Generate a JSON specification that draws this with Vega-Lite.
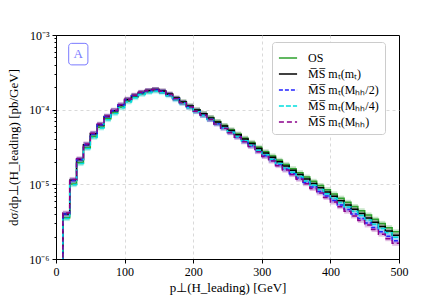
{
  "$schema": "https://vega.github.io/schema/vega-lite/v6.json",
  "width": 343,
  "height": 224,
  "autosize": {"type": "none"},
  "padding": {"left": 56, "top": 35, "right": 45, "bottom": 46},
  "config": {
    "font": "Liberation Serif",
    "view": {"stroke": "black", "strokeWidth": 1},
    "axis": {
      "labelFont": "Liberation Serif", "labelFontSize": 12, "labelColor": "black",
      "titleFont": "Liberation Serif", "titleFontSize": 13, "titleFontWeight": "normal", "titleColor": "black",
      "domainColor": "black", "tickColor": "black", "labelFlush": false,
      "gridDash": [3, 3], "gridWidth": 0.8
    },
    "legend": {
      "labelFont": "Liberation Serif", "labelFontSize": 12, "labelColor": "black"
    }
  },
  "datasets": {
    "h": [
      {"lo":0,"hi":10,"OS":1e-9,"MT":1e-9,"H2":1e-9,"H4":1e-9,"H1":1e-9},
      {"lo":10,"hi":20,"OS":3.56e-6,"MT":4.00e-6,"H2":4.00e-6,"H4":3.48e-6,"H1":4.12e-6},
      {"lo":20,"hi":30,"OS":1.014e-5,"MT":1.13e-5,"H2":1.129e-5,"H4":9.90e-6,"H1":1.162e-5},
      {"lo":30,"hi":40,"OS":1.944e-5,"MT":2.15e-5,"H2":2.146e-5,"H4":1.896e-5,"H1":2.204e-5},
      {"lo":40,"hi":50,"OS":3.10e-5,"MT":3.40e-5,"H2":3.39e-5,"H4":3.02e-5,"H1":3.48e-5},
      {"lo":50,"hi":60,"OS":4.36e-5,"MT":4.75e-5,"H2":4.74e-5,"H4":4.25e-5,"H1":4.85e-5},
      {"lo":60,"hi":70,"OS":5.83e-5,"MT":6.30e-5,"H2":6.27e-5,"H4":5.68e-5,"H1":6.41e-5},
      {"lo":70,"hi":80,"OS":7.55e-5,"MT":8.10e-5,"H2":8.06e-5,"H4":7.35e-5,"H1":8.23e-5},
      {"lo":80,"hi":90,"OS":9.10e-5,"MT":9.70e-5,"H2":9.65e-5,"H4":8.86e-5,"H1":9.84e-5},
      {"lo":90,"hi":100,"OS":1.087e-4,"MT":1.15e-4,"H2":1.143e-4,"H4":1.057e-4,"H1":1.164e-4},
      {"lo":100,"hi":110,"OS":1.304e-4,"MT":1.37e-4,"H2":1.360e-4,"H4":1.267e-4,"H1":1.382e-4},
      {"lo":110,"hi":120,"OS":1.486e-4,"MT":1.55e-4,"H2":1.538e-4,"H4":1.445e-4,"H1":1.561e-4},
      {"lo":120,"hi":130,"OS":1.642e-4,"MT":1.70e-4,"H2":1.686e-4,"H4":1.595e-4,"H1":1.709e-4},
      {"lo":130,"hi":140,"OS":1.751e-4,"MT":1.80e-4,"H2":1.784e-4,"H4":1.699e-4,"H1":1.804e-4},
      {"lo":140,"hi":150,"OS":1.823e-4,"MT":1.86e-4,"H2":1.841e-4,"H4":1.767e-4,"H1":1.860e-4},
      {"lo":150,"hi":160,"OS":1.752e-4,"MT":1.78e-4,"H2":1.755e-4,"H4":1.691e-4,"H1":1.769e-4},
      {"lo":160,"hi":170,"OS":1.599e-4,"MT":1.62e-4,"H2":1.589e-4,"H4":1.537e-4,"H1":1.599e-4},
      {"lo":170,"hi":180,"OS":1.417e-4,"MT":1.43e-4,"H2":1.397e-4,"H4":1.357e-4,"H1":1.403e-4},
      {"lo":180,"hi":190,"OS":1.264e-4,"MT":1.27e-4,"H2":1.236e-4,"H4":1.205e-4,"H1":1.238e-4},
      {"lo":190,"hi":200,"OS":1.119e-4,"MT":1.12e-4,"H2":1.085e-4,"H4":1.063e-4,"H1":1.085e-4},
      {"lo":200,"hi":210,"OS":9.92e-5,"MT":9.90e-5,"H2":9.54e-5,"H4":9.39e-5,"H1":9.52e-5},
      {"lo":210,"hi":220,"OS":8.85e-5,"MT":8.80e-5,"H2":8.45e-5,"H4":8.34e-5,"H1":8.41e-5},
      {"lo":220,"hi":230,"OS":7.84e-5,"MT":7.76e-5,"H2":7.42e-5,"H4":7.36e-5,"H1":7.37e-5},
      {"lo":230,"hi":240,"OS":6.93e-5,"MT":6.84e-5,"H2":6.50e-5,"H4":6.48e-5,"H1":6.45e-5},
      {"lo":240,"hi":250,"OS":6.13e-5,"MT":6.03e-5,"H2":5.71e-5,"H4":5.71e-5,"H1":5.65e-5},
      {"lo":250,"hi":260,"OS":5.38e-5,"MT":5.27e-5,"H2":4.97e-5,"H4":4.99e-5,"H1":4.91e-5},
      {"lo":260,"hi":270,"OS":4.73e-5,"MT":4.61e-5,"H2":4.33e-5,"H4":4.37e-5,"H1":4.26e-5},
      {"lo":270,"hi":280,"OS":4.15e-5,"MT":4.04e-5,"H2":3.77e-5,"H4":3.82e-5,"H1":3.71e-5},
      {"lo":280,"hi":290,"OS":3.64e-5,"MT":3.53e-5,"H2":3.28e-5,"H4":3.34e-5,"H1":3.22e-5},
      {"lo":290,"hi":300,"OS":3.13e-5,"MT":3.02e-5,"H2":2.80e-5,"H4":2.86e-5,"H1":2.74e-5},
      {"lo":300,"hi":310,"OS":2.73e-5,"MT":2.63e-5,"H2":2.42e-5,"H4":2.49e-5,"H1":2.36e-5},
      {"lo":310,"hi":320,"OS":2.40e-5,"MT":2.30e-5,"H2":2.11e-5,"H4":2.17e-5,"H1":2.05e-5},
      {"lo":320,"hi":330,"OS":2.10e-5,"MT":2.01e-5,"H2":1.84e-5,"H4":1.90e-5,"H1":1.78e-5},
      {"lo":330,"hi":340,"OS":1.85e-5,"MT":1.76e-5,"H2":1.60e-5,"H4":1.66e-5,"H1":1.55e-5},
      {"lo":340,"hi":350,"OS":1.62e-5,"MT":1.54e-5,"H2":1.39e-5,"H4":1.45e-5,"H1":1.35e-5},
      {"lo":350,"hi":360,"OS":1.43e-5,"MT":1.35e-5,"H2":1.215e-5,"H4":1.27e-5,"H1":1.17e-5},
      {"lo":360,"hi":370,"OS":1.25e-5,"MT":1.18e-5,"H2":1.057e-5,"H4":1.11e-5,"H1":1.02e-5},
      {"lo":370,"hi":380,"OS":1.097e-5,"MT":1.03e-5,"H2":9.18e-6,"H4":9.71e-6,"H1":8.81e-6},
      {"lo":380,"hi":390,"OS":9.65e-6,"MT":9.03e-6,"H2":8.01e-6,"H4":8.52e-6,"H1":7.67e-6},
      {"lo":390,"hi":400,"OS":8.49e-6,"MT":7.91e-6,"H2":6.98e-6,"H4":7.46e-6,"H1":6.67e-6},
      {"lo":400,"hi":410,"OS":7.45e-6,"MT":6.92e-6,"H2":6.08e-6,"H4":6.53e-6,"H1":5.79e-6},
      {"lo":410,"hi":420,"OS":6.53e-6,"MT":6.05e-6,"H2":5.29e-6,"H4":5.70e-6,"H1":5.02e-6},
      {"lo":420,"hi":430,"OS":5.75e-6,"MT":5.30e-6,"H2":4.61e-6,"H4":4.99e-6,"H1":4.37e-6},
      {"lo":430,"hi":440,"OS":5.04e-6,"MT":4.63e-6,"H2":4.01e-6,"H4":4.36e-6,"H1":3.78e-6},
      {"lo":440,"hi":450,"OS":4.43e-6,"MT":4.06e-6,"H2":3.50e-6,"H4":3.82e-6,"H1":3.29e-6},
      {"lo":450,"hi":460,"OS":3.89e-6,"MT":3.55e-6,"H2":3.04e-6,"H4":3.34e-6,"H1":2.86e-6},
      {"lo":460,"hi":470,"OS":3.41e-6,"MT":3.10e-6,"H2":2.64e-6,"H4":2.92e-6,"H1":2.48e-6},
      {"lo":470,"hi":480,"OS":3.00e-6,"MT":2.72e-6,"H2":2.31e-6,"H4":2.56e-6,"H1":2.15e-6},
      {"lo":480,"hi":490,"OS":2.63e-6,"MT":2.38e-6,"H2":2.01e-6,"H4":2.24e-6,"H1":1.87e-6},
      {"lo":490,"hi":500,"OS":2.31e-6,"MT":2.08e-6,"H2":1.75e-6,"H4":1.96e-6,"H1":1.62e-6},
      {"lo":500,"hi":510,"OS":2.31e-6,"MT":2.08e-6,"H2":1.75e-6,"H4":1.96e-6,"H1":1.62e-6}
    ],
    "ann": [{"x1": 18.5, "x2": 46.5, "y1": 0.000398, "y2": 0.000773, "xc": 32.5, "yc": 0.000555, "label": "A"}]
  },
  "encoding": {
    "color": {"field": "s", "type": "nominal",
      "scale": {"domain": ["OS", "MT", "H2", "H4", "H1"], "range": ["#2ca02c", "#000000", "#2222ff", "#00dede", "#8b008b"]},
      "legend": {
        "title": null, "orient": "none", "legendX": 216, "legendY": 7,
        "symbolType": "stroke", "symbolSize": 330, "symbolStrokeWidth": 1.5,
        "labelExpr": "{'OS':'OS','MT':'M̅S̅ mₜ(mₜ)','H2':'M̅S̅ mₜ(Mₕₕ/2)','H4':'M̅S̅ mₜ(Mₕₕ/4)','H1':'M̅S̅ mₜ(Mₕₕ)'}[datum.label]",
        "strokeColor": "#cccccc", "fillColor": "white", "cornerRadius": 3, "padding": 6, "rowPadding": 0, "labelOffset": 10
      }}
  },
  "layer": [
    {
      "data": {"name": "h"},
      "transform": [
        {"filter": "datum.lo >= 10 && datum.lo < 500"},
        {"fold": ["OS", "MT", "H2", "H4", "H1"], "as": ["s", "v"]}
      ],
      "mark": {"type": "rect", "height": 5, "fillOpacity": 0.25, "clip": true},
      "encoding": {
        "x": {"field": "lo", "type": "quantitative", "scale": {"domain": [0, 500], "nice": false},
              "axis": {"values": [0, 100, 200, 300, 400, 500], "title": "p⊥(H_leading) [GeV]", "tickSize": 4, "labelPadding": 3, "titlePadding": 4,
                       "gridColor": {"condition": {"test": "datum.value > 0 && datum.value < 500", "value": "#cfcfcf"}, "value": "transparent"}}},
        "x2": {"field": "hi"},
        "y": {"field": "v", "type": "quantitative",
              "scale": {"type": "log", "domain": [0.000001, 0.001], "nice": false},
              "axis": {
                "title": "dσ/dp⊥(H_leading) [pb/GeV]",
                "values": [1e-6,2e-6,3e-6,4e-6,5e-6,6e-6,7e-6,8e-6,9e-6,1e-5,2e-5,3e-5,4e-5,5e-5,6e-5,7e-5,8e-5,9e-5,1e-4,2e-4,3e-4,4e-4,5e-4,6e-4,7e-4,8e-4,9e-4,1e-3],
                "labelExpr": "datum.value == 0.000001 ? '10⁻⁶' : datum.value == 0.00001 ? '10⁻⁵' : datum.value == 0.0001 ? '10⁻⁴' : datum.value == 0.001 ? '10⁻³' : ''",
                "tickSize": {"condition": {"test": "indexof([0.000001,0.00001,0.0001,0.001], datum.value) >= 0", "value": 4}, "value": 2},
                "gridColor": {"condition": {"test": "indexof([0.00001,0.0001], datum.value) >= 0", "value": "#cfcfcf"}, "value": "transparent"},
                "labelPadding": 3, "titlePadding": 8
              }}
      }
    },
    {
      "data": {"name": "h"},
      "transform": [
        {"fold": ["OS", "MT", "H2", "H4", "H1"], "as": ["s", "v"]}
      ],
      "mark": {"type": "line", "interpolate": "step-after", "strokeWidth": 1.5, "clip": true},
      "encoding": {
        "x": {"field": "lo", "type": "quantitative"},
        "y": {"field": "v", "type": "quantitative"},
        "strokeDash": {"field": "s", "type": "nominal",
                       "scale": {"domain": ["OS", "MT", "H2", "H4", "H1"], "range": [[1, 0], [1, 0], [4, 2], [5, 2], [5, 3]]},
                       "legend": {
                    "title": null, "orient": "none", "legendX": 216, "legendY": 7,
                    "symbolType": "stroke", "symbolSize": 330, "symbolStrokeWidth": 1.5,
                    "labelExpr": "{'OS':'OS','MT':'M̅S̅ mₜ(mₜ)','H2':'M̅S̅ mₜ(Mₕₕ/2)','H4':'M̅S̅ mₜ(Mₕₕ/4)','H1':'M̅S̅ mₜ(Mₕₕ)'}[datum.label]",
                    "strokeColor": "#cccccc", "fillColor": "white", "cornerRadius": 3, "padding": 6, "rowPadding": 0, "labelOffset": 10
                  }}
      }
    },
    {
      "data": {"name": "ann"},
      "mark": {"type": "rect", "fill": "white", "stroke": "#7a7aff", "strokeWidth": 1, "cornerRadius": 3},
      "encoding": {
        "x": {"field": "x1", "type": "quantitative"},
        "x2": {"field": "x2"},
        "y": {"field": "y1", "type": "quantitative"},
        "y2": {"field": "y2"},
        "color": {"value": "white"}
      }
    },
    {
      "data": {"name": "ann"},
      "mark": {"type": "text", "fontSize": 13, "font": "Liberation Serif", "baseline": "middle", "align": "center"},
      "encoding": {
        "x": {"field": "xc", "type": "quantitative"},
        "y": {"field": "yc", "type": "quantitative"},
        "text": {"field": "label"},
        "color": {"value": "#7a7aff"}
      }
    }
  ]
}
